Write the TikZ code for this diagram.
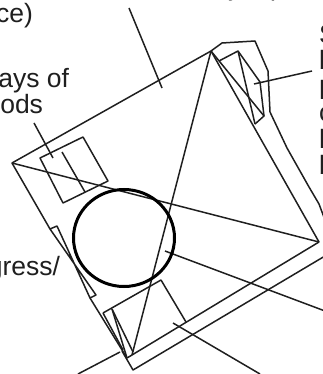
\documentclass[tikz,border=0pt]{standalone}
\usepackage{fontspec}
\setmainfont{Liberation Sans}
\usetikzlibrary{positioning}
\tikzset{
  every node/.style = {outer sep=0, inner sep=0},
  line/.style = {line width=1.5pt, line join=round, black!88},
  ring/.style = {line width=3pt, black},
  cuttext/.style = {font=\fontsize{26.5}{26.5}\selectfont, text=black!88, anchor=base east},
  sidetext/.style = {font=\fontsize{26.5}{26.5}\selectfont, text=black!88, anchor=base west}
}

\begin{document}
\begin{tikzpicture}[x=1pt,y=-1pt]
    \clip (0,0) rectangle (323,374);
    % main square
    \coordinate (wL) at (12,163);
    \coordinate (wT) at (211,51);
    \coordinate (wR) at (319,242);
    \coordinate (wB) at (127,358);
    \coordinate (tip) at (133,370);
    \coordinate (slitA) at (50,229);
    \coordinate (slitB) at (57,226);
    \coordinate (slitC) at (96,295);
    \coordinate (slitD) at (90,298);
    \draw[line] (slitA) -- (wL) -- (wT) -- (wR) -- (wB) -- (slitD);
    \draw[line] (slitA) -- (slitC) -- (slitD) -- (slitB) -- cycle;
    \draw[line] (wL) -- (wR);
    \draw[line] (wT) -- (132,355);
    % outer contour
    \draw[line] (wT) -- (222,43) -- (255,41) -- (268,71) -- (270,112) -- (287,148) -- (309,187) -- (319,204) -- (325,220);
    \draw[line] (325,256) -- (tip) -- (122,351);
    % left window
    \draw[line] (40,158) -- (83,137) -- (108,181) -- (63,203) -- cycle;
    \draw[line] (62,152) -- (85,192);
    % top right window
    \coordinate (rA) at (219,61);
    \coordinate (rB) at (238,51);
    \coordinate (rC) at (260,82);
    \coordinate (rD) at (264,116);
    \coordinate (rE) at (255,124);
    \draw[line] (rA) -- (rB) -- (rC) -- (rD) -- (rE);
    \draw[line] (rB) -- (rE);
    \draw[line] (wT) -- (rD);
    % bottom window
    \coordinate (bA) at (103,313);
    \coordinate (bB) at (112,309);
    \coordinate (bC) at (161,280);
    \coordinate (bD) at (186,322);
    \draw[line] (bA) -- (bC) -- (bD);
    \draw[line] (bA) -- (123,350);
    \draw[line] (bB) -- (133,352);
    \draw[line] (bB) -- (wB);
    % leaders
    \draw[line] (129,8) -- (162,88);
    \draw[line] (34,123) -- (53,158);
    \draw[line] (312,71) -- (254,84);
    \draw[line] (165,251) -- (325,311);
    \draw[line] (173,323) -- (260,374);
    \draw[line] (78,374) -- (120,352);
    % hole
    \draw[ring] (124,238) ellipse (50.5 and 48.5);
    % cut off labels
    \node[cuttext] (lbA) at (33,23) {ce)};
    \node[cuttext] (lbB) at (69,88) {ays of};
    \node[cuttext] (lbC) at (43,114) {ods};
    \node[cuttext] (lbD) at (60,275) {gress/};
    \node[sidetext] (lbE) at (228,-4) {y};
    \node[sidetext] (lbF) at (270,-4) {p};
    \foreach \t/\y in {S/44,b/70,h/100,c/122,h/148,b/174} {
      \node[sidetext] at (319,\y) {\t};
    }
  \end{tikzpicture}
\end{document}
